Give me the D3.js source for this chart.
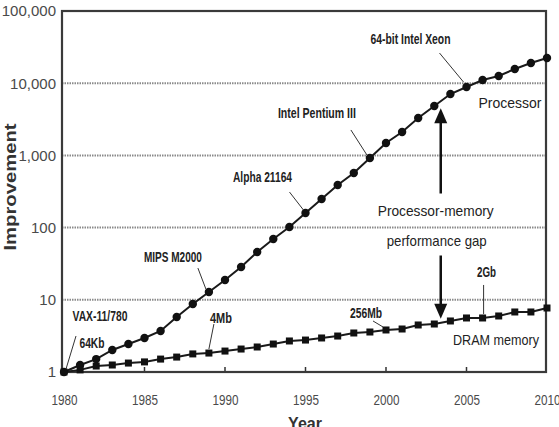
<!DOCTYPE html>
<html><head><meta charset="utf-8">
<script src="https://cdn.jsdelivr.net/npm/d3@7"></script>
<style>body{margin:0;background:#fff}svg{display:block}</style>
</head><body><svg id="c" width="559" height="427"></svg>
<script>
const years = [1980,1981,1982,1983,1984,1985,1986,1987,1988,1989,1990,1991,1992,1993,1994,1995,1996,1997,1998,1999,2000,2001,2002,2003,2004,2005,2006,2007,2008,2009,2010];
const processor = [1,1.25,1.51,2.02,2.44,2.96,3.70,5.78,8.75,12.8,18.8,28.5,45.9,69.5,102,159,249,389,570,921,1486,2109,3297,4832,7087,8850,11070,12580,15730,19040,22330];
const dram = [1,1.07,1.21,1.25,1.33,1.38,1.51,1.61,1.78,1.83,1.95,2.08,2.22,2.44,2.69,2.77,2.96,3.15,3.47,3.58,3.82,3.94,4.48,4.62,5.09,5.60,5.60,5.97,6.78,6.78,7.70];
const yTicks = [1,10,100,1000,10000,100000];
const xTicks = [1980,1985,1990,1995,2000,2005,2010];
const gridValues = [10,100,1000,10000];
const xTitle = "Year";
const yTitle = "Improvement";
const seriesLabels = {processor:"Processor", dram:"DRAM memory"};
const gapLabels = ["Processor-memory","performance gap"];
const gapYear = 2003.4;

// annotation texts attached to data points (offsets in px from the point)
const annotations = [
  {text:"VAX-11/780", s:"processor", year:1980, dx:36, dy:-57, w:55, leader:null},
  {text:"64Kb", s:"processor", year:1980, dx:28, dy:-30, w:25, leader:[12,-36,2,-3]},
  {text:"MIPS M2000", s:"processor", year:1989, dx:-36, dy:-36, w:58, leader:[-11,-24,-3,-3]},
  {text:"Alpha 21164", s:"processor", year:1995, dx:-43, dy:-37, w:59, leader:[-16,-21,-2,-3]},
  {text:"Intel Pentium III", s:"processor", year:1999, dx:-53, dy:-45, w:78, leader:[-19,-28,-3,-3]},
  {text:"64-bit Intel Xeon", s:"processor", year:2005, dx:-56, dy:-49, w:80, leader:[-27,-34,-3,-5]},
  {text:"4Mb", s:"dram", year:1989, dx:12, dy:-36, w:22, leader:[5,-29,0,-4]},
  {text:"256Mb", s:"dram", year:2000, dx:-20, dy:-17, w:32, leader:[-13,-9,-3,-3]},
  {text:"2Gb", s:"dram", year:2006, dx:4, dy:-46, w:19, leader:[1,-33,1,-4]}
];

const svg = d3.select("#c");
const pL = 62, pR = 546, pT = 11, pB = 372;
const x = d3.scaleLinear().domain([1980,2010]).range([64,547]);
const y = d3.scaleLog().domain([1,100000]).range([pB, pT]);
const seriesData = {processor, dram};

const narrow = "'Liberation Sans Narrow','Arial Narrow','Liberation Sans',Arial,sans-serif";
const sans = "'Liberation Sans',Arial,sans-serif";

// grid
svg.append("g").selectAll("line").data(gridValues).join("line")
  .attr("x1", pL).attr("x2", pR)
  .attr("y1", d=>y(d)).attr("y2", d=>y(d))
  .attr("stroke","#8a8a8a").attr("stroke-width",2).attr("stroke-dasharray","1.5,1");

// y axis
const yAxis = d3.axisLeft(y).tickValues(yTicks).tickFormat(d3.format(",")).tickSize(0).tickPadding(6);
const gy = svg.append("g").attr("transform",`translate(${pL},0)`).call(yAxis);
gy.select(".domain").remove();
gy.selectAll("text").attr("font-family", narrow).attr("font-size", 15).attr("fill","#4a4a4a");

// x axis
const xAxis = d3.axisBottom(x).tickValues(xTicks).tickFormat(d3.format("d")).tickSize(0).tickPadding(22);
const gx = svg.append("g").attr("transform",`translate(0,${pB})`).call(xAxis);
gx.select(".domain").remove();
gx.selectAll("text").attr("font-family", narrow).attr("font-size", 15).attr("fill","#4a4a4a")
  .attr("textLength",26).attr("lengthAdjust","spacingAndGlyphs");
// inner ticks
svg.append("g").selectAll("line").data(xTicks.slice(1,-1)).join("line")
  .attr("x1", d=>x(d)).attr("x2", d=>x(d)).attr("y1", pB).attr("y2", pB-5)
  .attr("stroke","#333").attr("stroke-width",1.5);

// frame
svg.append("rect").attr("x",pL).attr("y",pT).attr("width",pR-pL).attr("height",pB-pT)
  .attr("fill","none").attr("stroke","#3a3a3a").attr("stroke-width",2.2);

// titles
svg.append("text").attr("x",305).attr("y",429).attr("text-anchor","middle")
  .attr("font-family",sans).attr("font-weight","bold").attr("font-size",16).attr("fill","#333").text(xTitle);
svg.append("text").attr("transform","translate(15.5,187) rotate(-90)").attr("text-anchor","middle")
  .attr("font-family",sans).attr("font-weight","bold").attr("font-size",16).attr("fill","#333")
  .attr("textLength",127).attr("lengthAdjust","spacingAndGlyphs").text(yTitle);

// lines
const line = d3.line().x((d,i)=>x(years[i])).y(d=>y(d));
svg.append("path").datum(processor).attr("d",line).attr("fill","none").attr("stroke","#1a1a1a").attr("stroke-width",2);
svg.append("path").datum(dram).attr("d",line).attr("fill","none").attr("stroke","#1a1a1a").attr("stroke-width",2);

// markers
svg.append("g").selectAll("circle").data(processor).join("circle")
  .attr("cx",(d,i)=>x(years[i])).attr("cy",d=>y(d)).attr("r",4.2).attr("fill","#111");
svg.append("g").selectAll("rect").data(dram).join("rect")
  .attr("x",(d,i)=>x(years[i])-3.5).attr("y",d=>y(d)-3.5).attr("width",7).attr("height",7).attr("fill","#111");

// annotations
annotations.forEach(a=>{
  const i = years.indexOf(a.year);
  const px = x(a.year), py = y(seriesData[a.s][i]);
  if (a.leader) {
    svg.append("line").attr("x1",px+a.leader[0]).attr("y1",py+a.leader[1])
      .attr("x2",px+a.leader[2]).attr("y2",py+a.leader[3]).attr("stroke","#333").attr("stroke-width",1);
  }
  svg.append("text").attr("x",px+a.dx).attr("y",py+a.dy).attr("text-anchor","middle")
    .attr("dominant-baseline","central").attr("font-family",narrow).attr("font-weight","bold")
    .attr("font-size",15).attr("fill","#222")
    .attr("textLength",a.w).attr("lengthAdjust","spacingAndGlyphs").text(a.text);
});

// series labels
const lastI = years.length-1;
svg.append("text").attr("x",x(years[lastI])-37).attr("y",y(processor[lastI])+44)
  .attr("text-anchor","middle").attr("dominant-baseline","central").attr("font-family",sans)
  .attr("font-size",15).attr("fill","#222").attr("textLength",63).attr("lengthAdjust","spacingAndGlyphs")
  .text(seriesLabels.processor);
svg.append("text").attr("x",x(years[lastI])-51).attr("y",y(dram[lastI])+32)
  .attr("text-anchor","middle").attr("dominant-baseline","central").attr("font-family",sans)
  .attr("font-size",15).attr("fill","#222").attr("textLength",86).attr("lengthAdjust","spacingAndGlyphs")
  .text(seriesLabels.dram);

// performance gap arrows
const i0 = years.indexOf(Math.floor(gapYear)), t = gapYear - Math.floor(gapYear);
const interpLog = arr => Math.pow(10, Math.log10(arr[i0])*(1-t) + Math.log10(arr[i0+1])*t);
const ax = x(gapYear);
const tipTop = y(interpLog(processor)) + 7;
const tipBot = y(interpLog(dram)) - 4;
const mid = (tipTop + tipBot)/2;
const headH = 15, headW = 6.5;
svg.append("line").attr("x1",ax).attr("x2",ax).attr("y1",tipTop+headH-1).attr("y2",mid-20)
  .attr("stroke","#111").attr("stroke-width",2.5);
svg.append("line").attr("x1",ax).attr("x2",ax).attr("y1",mid+42).attr("y2",tipBot-headH+1)
  .attr("stroke","#111").attr("stroke-width",2.5);
svg.append("path").attr("d",`M${ax},${tipTop}L${ax-headW},${tipTop+headH}L${ax+headW},${tipTop+headH}Z`).attr("fill","#111");
svg.append("path").attr("d",`M${ax},${tipBot}L${ax-headW},${tipBot-headH}L${ax+headW},${tipBot-headH}Z`).attr("fill","#111");
svg.append("text").attr("x",ax-5).attr("y",mid-2.5).attr("text-anchor","middle").attr("dominant-baseline","central")
  .attr("font-family",sans).attr("font-size",15).attr("fill","#222")
  .attr("textLength",116).attr("lengthAdjust","spacingAndGlyphs").text(gapLabels[0]);
svg.append("text").attr("x",ax-4).attr("y",mid+27.5).attr("text-anchor","middle").attr("dominant-baseline","central")
  .attr("font-family",sans).attr("font-size",15).attr("fill","#222")
  .attr("textLength",100).attr("lengthAdjust","spacingAndGlyphs").text(gapLabels[1]);
</script></body></html>
